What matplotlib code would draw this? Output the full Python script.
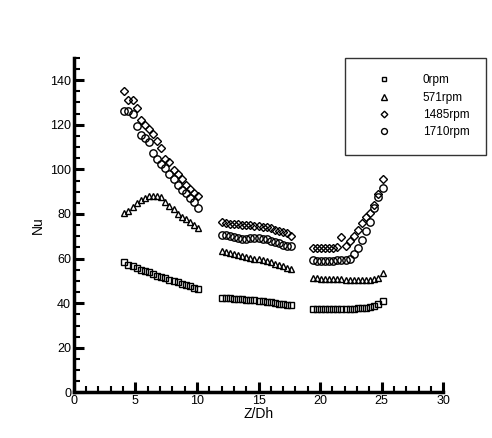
import matplotlib
matplotlib.use('agg')
import matplotlib.pyplot as plt
from matplotlib.ticker import MultipleLocator

plt.rcParams['font.family'] = ['Liberation Sans', 'DejaVu Sans']

# Z/Dh positions for the three measured sections
x1 = [4.1, 4.43, 4.77, 5.1, 5.43, 5.77, 6.1, 6.43, 6.77, 7.1, 7.43, 7.77, 8.1, 8.43, 8.77, 9.1, 9.43, 9.77, 10.1]
x2 = [12.0, 12.33, 12.67, 13.0, 13.33, 13.67, 14.0, 14.33, 14.67, 15.0, 15.33, 15.67, 16.0, 16.33, 16.67, 17.0, 17.33, 17.67]
x3 = [19.4, 19.73, 20.07, 20.4, 20.73, 21.07, 21.4, 21.73, 22.07, 22.4, 22.73, 23.07, 23.4, 23.73, 24.07, 24.4, 24.73, 25.07]

# Nu, 0rpm
nu0_1 = [58.5, 57.2, 56.8, 55.8, 55.0, 54.4, 53.8, 53.0, 52.4, 51.8, 51.2, 50.6, 50.0, 49.3, 48.8, 48.2, 47.6, 47.0, 46.3]
nu0_2 = [42.4, 42.3, 42.2, 42.0, 41.9, 41.8, 41.6, 41.5, 41.3, 41.1, 40.9, 40.7, 40.4, 40.1, 39.8, 39.5, 39.2, 39.0]
nu0_3 = [37.5, 37.4, 37.4, 37.3, 37.3, 37.3, 37.3, 37.4, 37.4, 37.5, 37.6, 37.7, 37.8, 37.9, 38.2, 38.8, 39.8, 41.2]

# Nu, 571rpm
nu571_1 = [80.5, 81.3, 83.0, 84.8, 86.2, 87.3, 87.9, 88.2, 87.9, 87.4, 85.2, 83.8, 82.3, 80.2, 78.8, 77.8, 76.3, 75.2, 73.8]
nu571_2 = [63.2, 62.8, 62.3, 62.0, 61.6, 61.2, 60.8, 60.4, 60.0, 59.6, 59.2, 58.8, 58.3, 57.8, 57.2, 56.6, 56.0, 55.2]
nu571_3 = [51.5, 51.2, 51.0, 51.0, 50.9, 50.8, 50.7, 50.7, 50.6, 50.5, 50.5, 50.4, 50.3, 50.3, 50.5, 50.8, 51.5, 53.5]

# Nu, 1485rpm
nu1485_1 = [135.0, 131.3, 131.0, 127.6, 122.3, 120.0, 118.0, 115.7, 112.6, 109.6, 104.5, 103.2, 99.6, 98.0, 95.6, 93.2, 91.4, 89.4, 88.0]
nu1485_2 = [76.5, 75.8, 75.6, 75.5, 75.4, 75.2, 75.0, 74.9, 74.8, 74.6, 74.3, 74.0, 73.5, 73.0, 72.5, 71.8, 71.5, 70.3]
nu1485_3 = [64.8, 64.7, 64.8, 64.7, 64.8, 64.9, 65.0, 69.5, 65.5, 67.8, 70.0, 72.8, 76.0, 78.5, 80.6, 84.0, 89.0, 95.5]

# Nu, 1710rpm
nu1710_1 = [126.2, 126.2, 124.6, 119.6, 115.2, 114.0, 112.3, 107.5, 104.5, 102.3, 100.6, 97.8, 95.6, 93.2, 90.6, 89.4, 87.2, 85.5, 82.5]
nu1710_2 = [70.8, 70.6, 70.3, 69.8, 69.3, 68.9, 68.9, 69.2, 69.3, 69.2, 69.0, 68.6, 68.0, 67.4, 66.8, 66.2, 65.8, 65.5]
nu1710_3 = [59.3, 59.1, 59.0, 59.0, 59.0, 59.1, 59.2, 59.2, 59.5, 60.0, 62.2, 64.8, 68.3, 72.2, 76.5, 82.5, 87.5, 91.8]

series = [
    ('0rpm', 's', 4.0, [nu0_1, nu0_2, nu0_3]),
    ('571rpm', '^', 4.8, [nu571_1, nu571_2, nu571_3]),
    ('1485rpm', 'D', 4.2, [nu1485_1, nu1485_2, nu1485_3]),
    ('1710rpm', 'o', 5.3, [nu1710_1, nu1710_2, nu1710_3]),
]

fig = plt.figure(figsize=[4.92, 4.38], dpi=100)
ax = fig.add_axes([0.150, 0.104, 0.751, 0.764])

for name, mk, ms, segs in series:
    xs = x1 + x2 + x3
    ys = segs[0] + segs[1] + segs[2]
    ax.plot(xs, ys, linestyle='none', marker=mk, markersize=ms, markerfacecolor='none',
            markeredgecolor='black', markeredgewidth=1.0, label=name)

ax.set_xlim(0, 30)
ax.set_ylim(0, 150)
ax.set_xticks([0, 5, 10, 15, 20, 25, 30])
ax.set_yticks([0, 20, 40, 60, 80, 100, 120, 140])
ax.xaxis.set_minor_locator(MultipleLocator(1))
ax.yaxis.set_minor_locator(MultipleLocator(5))
ax.tick_params(which='major', direction='in', length=7, width=2.2, labelsize=9, pad=2)
ax.tick_params(which='minor', direction='in', length=4, width=1.5)
ax.spines['top'].set_visible(False)
ax.spines['right'].set_visible(False)
ax.spines['left'].set_linewidth(2.5)
ax.spines['bottom'].set_linewidth(2.5)
ax.set_xlabel('Z/Dh', fontsize=10, labelpad=0)
ax.set_ylabel('Nu', fontsize=10, labelpad=4)

leg = ax.legend(loc='upper left', bbox_to_anchor=(0.734, 1.0), frameon=True, fancybox=False,
                edgecolor='black', fontsize=8.5, markerscale=0.8, handletextpad=1.4,
                labelspacing=0.45, borderpad=1.4, borderaxespad=0, handlelength=3.8)
leg.get_frame().set_linewidth(1.0)

fig.savefig('out.png', dpi=100)
